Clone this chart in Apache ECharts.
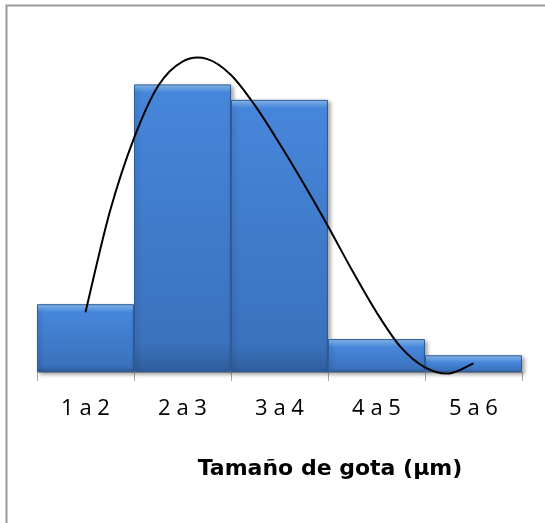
<!DOCTYPE html>
<html>
<head>
<meta charset="utf-8">
<script src="https://cdn.jsdelivr.net/npm/echarts@6/dist/echarts.min.js"></script>
<style>
html,body{margin:0;padding:0;background:#fff;}
#chart{width:545px;height:523px;}
</style>
</head>
<body>
<div id="chart"></div>
<script>
// Data
var categories = ['1 a 2', '2 a 3', '3 a 4', '4 a 5', '5 a 6'];
var barValues = [10.1, 42.8, 40.5, 4.9, 2.5];
// trend curve: x position (1 = first category centre), value
var curveX = [1.0, 1.25, 1.5, 1.75, 2.0, 2.25, 2.5, 2.75, 3.0, 3.25, 3.5, 3.75, 4.0, 4.25, 4.5, 4.75, 5.0];
var curveY = [8.9, 23.8, 34.8, 42.6, 46.2, 46.6, 44.2, 39.6, 34.0, 28.0, 21.7, 15.1, 8.9, 3.7, 0.7, -0.2, 1.3];
var axisTitle = 'Tamaño de gota (µm)';

var chart = echarts.init(document.getElementById('chart'));

function barStyle(v) {
  var b = Math.min(0.45, 1.2 / v);
  return {
    color: new echarts.graphic.LinearGradient(0, 0, 0, 1, [
      { offset: 0, color: '#8cc2f6' },
      { offset: b * 0.5, color: '#6aa6ec' },
      { offset: b, color: '#4686da' },
      { offset: Math.max(b, 0.9), color: '#3b72bd' },
      { offset: 1, color: '#2f5d9c' }
    ]),
    borderColor: '#2e5c98',
    borderWidth: 1,
    shadowColor: 'rgba(0,0,0,0.35)',
    shadowBlur: 4,
    shadowOffsetX: 2,
    shadowOffsetY: 2
  };
}

var barData = barValues.map(function (v) { return { value: v, itemStyle: barStyle(v) }; });
var curveData = curveX.map(function (x, i) { return [x, curveY[i]]; });

// smooth Catmull-Rom path through the read points, positioned by the axes
function renderCurve(params, api) {
  if (params.dataIndex !== 0) return null;
  var pts = curveData.map(function (d) { return api.coord(d); });
  var n = pts.length;
  var path = 'M' + pts[0][0] + ' ' + pts[0][1];
  for (var i = 0; i < n - 1; i++) {
    var p0 = pts[Math.max(0, i - 1)], p1 = pts[i], p2 = pts[i + 1], p3 = pts[Math.min(n - 1, i + 2)];
    var c1x = p1[0] + (p2[0] - p0[0]) / 6, c1y = p1[1] + (p2[1] - p0[1]) / 6;
    var c2x = p2[0] - (p3[0] - p1[0]) / 6, c2y = p2[1] - (p3[1] - p1[1]) / 6;
    path += ' C' + c1x + ' ' + c1y + ' ' + c2x + ' ' + c2y + ' ' + p2[0] + ' ' + p2[1];
  }
  return {
    type: 'path',
    shape: { pathData: path },
    style: { fill: 'none', stroke: '#000', lineWidth: 2 }
  };
}

chart.setOption({
  animation: false,
  backgroundColor: '#fff',
  grid: { left: 37, right: 23, top: 36, bottom: 137.5 },
  xAxis: [{
    type: 'category',
    data: categories,
    boundaryGap: true,
    axisLine: { onZero: true, lineStyle: { color: '#b4b4b4', width: 1 } },
    axisTick: { show: true, length: 9, lineStyle: { color: '#a8a8a8' } },
    axisLabel: { color: '#000', fontFamily: 'Open Sans', fontSize: 22, margin: 12 },
    splitLine: { show: false }
  }, {
    type: 'value',
    min: 0.5,
    max: 5.5,
    show: false
  }],
  yAxis: {
    type: 'value',
    min: -2,
    max: 50,
    show: false,
    splitLine: { show: false }
  },
  graphic: [{
    type: 'rect',
    shape: { x: 6.5, y: 5.5, width: 560, height: 560 },
    style: { fill: 'none', stroke: '#9a9a9a', lineWidth: 2 },
    silent: true
  }, {
    type: 'text',
    x: 330,
    y: 469,
    style: {
      text: axisTitle,
      fontFamily: 'DejaVu Sans',
      fontWeight: 'bold',
      fontSize: 22,
      fill: '#000',
      textAlign: 'center',
      textVerticalAlign: 'middle'
    }
  }],
  series: [{
    type: 'bar',
    data: barData,
    barCategoryGap: '0%',
    xAxisIndex: 0
  }, {
    type: 'custom',
    xAxisIndex: 1,
    yAxisIndex: 0,
    data: curveData,
    renderItem: renderCurve,
    encode: { x: 0, y: 1 },
    z: 5
  }]
});
</script>
</body>
</html>
